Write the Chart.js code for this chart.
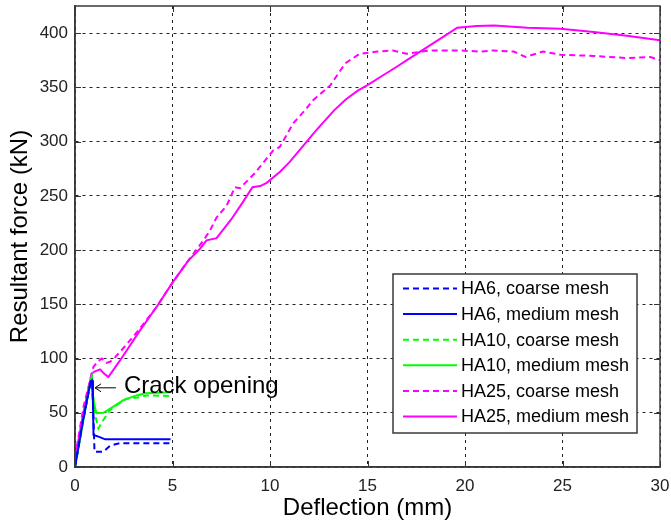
<!DOCTYPE html>
<html>
<head>
<meta charset="utf-8">
<script src="https://cdn.jsdelivr.net/npm/chart.js@4/dist/chart.umd.min.js"></script>
<style>
  html, body { margin: 0; padding: 0; background: #fff; }
  #wrap { width: 671px; height: 523px; }
</style>
</head>
<body>
<div id="wrap"><canvas id="c" width="671" height="523"></canvas></div>
<script>
// ---- data ----
const xTicks = [0, 5, 10, 15, 20, 25, 30];
const yTicks = [0, 50, 100, 150, 200, 250, 300, 350, 400];

const seriesNames = [
  'HA6, coarse mesh', 'HA6, medium mesh',
  'HA10, coarse mesh', 'HA10, medium mesh',
  'HA25, coarse mesh', 'HA25, medium mesh'
];

const ha6CoarseX = [0, 0.4, 0.8, 0.88, 0.94, 1.0, 1.45, 1.8, 2.3, 4.9];
const ha6CoarseY = [0, 42, 78, 79, 50, 14, 14, 19.6, 22, 22];

const ha6MediumX = [0, 0.4, 0.8, 0.88, 0.92, 0.95, 1.2, 1.55, 4.9];
const ha6MediumY = [0, 42, 79, 80, 60, 29.5, 28, 25.5, 25.5];

const ha10CoarseX = [0, 0.4, 0.8, 0.86, 1.0, 1.2, 1.4, 1.8, 2.2, 2.65, 3.2, 3.67, 4.9];
const ha10CoarseY = [0, 40, 79, 82, 50, 35.6, 42, 52.5, 58, 63, 64, 66, 65.5];

const ha10MediumX = [0, 0.4, 0.8, 0.86, 0.95, 1.1, 1.45, 1.97, 2.48, 3.16, 3.6, 4.9];
const ha10MediumY = [0, 40, 80, 83, 60, 49.5, 50, 55.6, 61.7, 66, 68, 69];

const ha25CoarseX = [0, 0.08, 0.43, 0.94, 1.15, 1.37, 1.6, 1.8, 2.05, 2.6, 3.3, 4.2, 5.0, 5.8, 6.67, 6.92, 7.26, 7.78, 8.2, 8.46, 9.23, 10.17, 10.5, 11.2, 11.8, 12.2, 13.1, 13.85, 14.6, 15.5, 16.3, 17.0, 18.2, 19.7, 20.8, 21.45, 22.5, 23.1, 24.0, 24.9, 26.6, 28.3, 29.5, 30];
const ha25CoarseY = [0, 17, 55, 92, 97, 100, 96, 97, 101, 112, 127, 148, 170, 190, 211, 218, 230, 241, 258, 257, 271, 292, 295, 317, 329, 338, 352, 372, 381, 383, 384, 381, 384, 384, 383, 384, 383, 378, 383, 380, 379, 377, 378, 375];

const ha25MediumX = [0, 0.08, 0.43, 0.85, 1.0, 1.28, 1.5, 1.71, 2.3, 3.3, 4.2, 5.0, 5.8, 6.4, 6.75, 7.26, 8.0, 8.6, 9.1, 9.5, 9.83, 10.5, 11.0, 11.7, 12.3, 12.7, 13.3, 13.9, 14.5, 15.0, 15.7, 16.5, 17.1, 17.7, 18.4, 19.0, 19.6, 20.6, 21.5, 23.2, 24.9, 26.6, 28.3, 30];
const ha25MediumY = [0, 15, 50, 86, 88, 90, 86, 83, 98, 125, 148, 170, 190, 201, 209, 211, 228, 244, 258, 259, 262, 272, 281, 296, 309, 317, 329, 339, 347, 352, 360, 369, 376, 383, 391, 398, 405, 406.5, 407, 405, 404, 401, 397.5, 393.5];

const annotationText = 'Crack opening';
const annotationTip = [1.03, 73];   // data coords of arrow tip
const annotationTail = [2.1, 73];   // data coords of arrow tail

// ---- build chart ----
const FONT = "'Liberation Sans', Arial, sans-serif";
function pts(xs, ys) { return xs.map((x, i) => ({ x: x, y: ys[i] })); }

const styles = [
  { color: '#0000ff', dash: [6, 4] },
  { color: '#0000ff', dash: [] },
  { color: '#00ff00', dash: [6, 4] },
  { color: '#00ff00', dash: [] },
  { color: '#ff00ff', dash: [6, 4] },
  { color: '#ff00ff', dash: [] }
];
const allX = [ha6CoarseX, ha6MediumX, ha10CoarseX, ha10MediumX, ha25CoarseX, ha25MediumX];
const allY = [ha6CoarseY, ha6MediumY, ha10CoarseY, ha10MediumY, ha25CoarseY, ha25MediumY];

const datasets = seriesNames.map((name, i) => ({
  label: name,
  data: pts(allX[i], allY[i]),
  borderColor: styles[i].color,
  backgroundColor: styles[i].color,
  borderDash: styles[i].dash,
  borderWidth: 2,
  pointRadius: 0,
  showLine: true,
  fill: false,
  tension: 0
}));

const overlay = {
  id: 'overlay',
  afterDraw(chart) {
    const ctx = chart.ctx;
    const a = chart.chartArea;
    const xs = chart.scales.x, ys = chart.scales.y;
    ctx.save();
    // inner tick marks
    ctx.strokeStyle = '#333';
    ctx.lineWidth = 1;
    ctx.setLineDash([]);
    xTicks.forEach(v => {
      const px = Math.round(xs.getPixelForValue(v)) + 0.5;
      ctx.beginPath();
      ctx.moveTo(px, a.bottom); ctx.lineTo(px, a.bottom - 6);
      ctx.moveTo(px, a.top); ctx.lineTo(px, a.top + 6);
      ctx.stroke();
    });
    yTicks.forEach(v => {
      const py = Math.round(ys.getPixelForValue(v)) + 0.5;
      ctx.beginPath();
      ctx.moveTo(a.left, py); ctx.lineTo(a.left + 6, py);
      ctx.moveTo(a.right, py); ctx.lineTo(a.right - 6, py);
      ctx.stroke();
    });
    // axes box
    ctx.strokeStyle = '#3a3a3a';
    ctx.lineWidth = 1.5;
    ctx.strokeRect(a.left, a.top, a.right - a.left, a.bottom - a.top);

    // annotation
    const tx = xs.getPixelForValue(annotationTip[0]);
    const ty = ys.getPixelForValue(annotationTip[1]);
    const sx = xs.getPixelForValue(annotationTail[0]);
    ctx.strokeStyle = '#000';
    ctx.lineWidth = 1;
    ctx.beginPath();
    ctx.moveTo(sx, ty); ctx.lineTo(tx, ty);
    ctx.moveTo(tx + 6, ty - 4); ctx.lineTo(tx, ty); ctx.lineTo(tx + 6, ty + 4);
    ctx.stroke();
    ctx.fillStyle = '#000';
    ctx.font = '24px ' + FONT;
    ctx.textBaseline = 'middle';
    ctx.textAlign = 'left';
    ctx.fillText(annotationText, sx + 8, ty - 1);

    // legend box
    const lx = 393, ly = 274, lw = 244, lh = 159;
    ctx.fillStyle = '#fff';
    ctx.fillRect(lx, ly, lw, lh);
    ctx.strokeStyle = '#3a3a3a';
    ctx.lineWidth = 1.5;
    ctx.strokeRect(lx, ly, lw, lh);
    ctx.font = '18px ' + FONT;
    chart.data.datasets.forEach((ds, i) => {
      const ry = 288.5 + i * 25.6;
      ctx.strokeStyle = ds.borderColor;
      ctx.lineWidth = 2;
      ctx.setLineDash(ds.borderDash);
      ctx.beginPath();
      ctx.moveTo(403, ry); ctx.lineTo(457, ry);
      ctx.stroke();
      ctx.setLineDash([]);
      ctx.fillStyle = '#000';
      ctx.fillText(ds.label, 461, ry + 1);
    });
    ctx.restore();
  }
};

new Chart(document.getElementById('c'), {
  type: 'scatter',
  data: { datasets: datasets },
  options: {
    responsive: false,
    animation: false,
    layout: { padding: { left: 0, right: 11, top: 6, bottom: 0 } },
    plugins: { legend: { display: false }, tooltip: { enabled: false } },
    scales: {
      x: {
        type: 'linear', min: 0, max: 30,
        afterBuildTicks: s => { s.ticks = xTicks.map(v => ({ value: v })); },
        afterFit: s => { s.height = 56; s.paddingLeft = 0; s.paddingRight = 0; },
        ticks: { color: '#222', font: { family: FONT, size: 17 }, padding: 9, maxRotation: 0 },
        grid: { color: '#222', lineWidth: 1, drawTicks: false },
        border: { display: true, color: '#3a3a3a', width: 1.5, dash: [3, 4] },
        title: { display: true, text: 'Deflection (mm)', color: '#000', font: { family: FONT, size: 24 }, padding: { top: 0, bottom: 0 } }
      },
      y: {
        type: 'linear', min: 0, max: 425,
        afterBuildTicks: s => { s.ticks = yTicks.map(v => ({ value: v })); },
        afterFit: s => { s.width = 75; s.paddingTop = 0; s.paddingBottom = 0; },
        ticks: { color: '#222', font: { family: FONT, size: 17 }, padding: 7 },
        grid: { color: '#222', lineWidth: 1, drawTicks: false },
        border: { display: true, color: '#3a3a3a', width: 1.5, dash: [3, 4] },
        title: { display: true, text: 'Resultant force (kN)', color: '#000', font: { family: FONT, size: 24 }, padding: { top: 6, bottom: 0 } }
      }
    }
  },
  plugins: [overlay]
});
</script>
</body>
</html>
